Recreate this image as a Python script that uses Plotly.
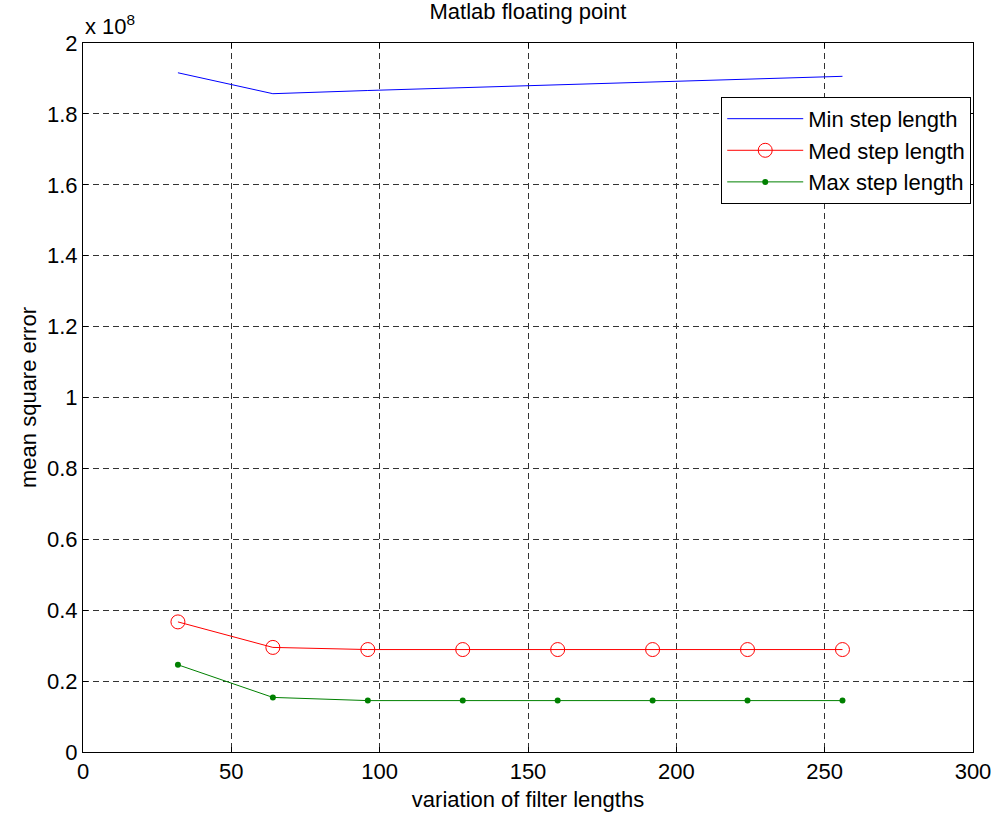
import plotly.graph_objects as go

filter_lengths = [32, 64, 96, 128, 160, 192, 224, 256]
min_step = [1.916e8, 1.857e8, 1.866e8, 1.874e8, 1.881e8, 1.890e8, 1.898e8, 1.906e8]
med_step = [0.367e8, 0.295e8, 0.289e8, 0.289e8, 0.289e8, 0.289e8, 0.289e8, 0.289e8]
max_step = [0.246e8, 0.154e8, 0.145e8, 0.145e8, 0.145e8, 0.145e8, 0.145e8, 0.145e8]

y_tickvals = [0, 0.2e8, 0.4e8, 0.6e8, 0.8e8, 1.0e8, 1.2e8, 1.4e8, 1.6e8, 1.8e8, 2.0e8]
y_ticktext = ["0", "0.2", "0.4", "0.6", "0.8", "1", "1.2", "1.4", "1.6", "1.8", "2"]
x_tickvals = [0, 50, 100, 150, 200, 250, 300]

FONT = "Liberation Sans, Arial, sans-serif"

fig = go.Figure()
fig.add_trace(go.Scatter(x=filter_lengths, y=min_step, mode="lines", name="Min step length",
                         line=dict(color="#0000ff", width=1)))
fig.add_trace(go.Scatter(x=filter_lengths, y=med_step, mode="lines+markers", name="Med step length",
                         line=dict(color="#ff0000", width=1),
                         marker=dict(symbol="circle-open", size=14, color="#ff0000", line=dict(width=1))))
fig.add_trace(go.Scatter(x=filter_lengths, y=max_step, mode="lines+markers", name="Max step length",
                         line=dict(color="#008000", width=1),
                         marker=dict(symbol="circle", size=6, color="#008000")))

axis_common = dict(showline=True, linecolor="black", linewidth=1, mirror="ticks",
                   ticks="inside", ticklen=5, tickcolor="black", automargin=False,
                   showgrid=True, gridcolor="#333333", griddash="6px,4px", gridwidth=1,
                   zeroline=False, tickfont=dict(family=FONT, size=22, color="black"))

fig.update_layout(
    width=997, height=814,
    paper_bgcolor="white", plot_bgcolor="white",
    margin=dict(l=83, r=24, t=43, b=62),
    title=dict(text="Matlab floating point", x=0.5, xref="paper", xanchor="center",
               y=0.986, yanchor="middle",
               font=dict(family=FONT, size=22, color="black")),
    xaxis=dict(range=[0, 300], tickvals=x_tickvals,
               title=dict(text="variation of filter lengths", font=dict(family=FONT, size=22, color="black"), standoff=8),
               **axis_common),
    yaxis=dict(range=[0, 2e8], tickvals=y_tickvals, ticktext=y_ticktext,
               title=dict(text="mean square error", font=dict(family=FONT, size=22, color="black"), standoff=4),
               **axis_common),
    legend=dict(x=0.998, y=0.924, xanchor="right", yanchor="top",
                bordercolor="black", borderwidth=1, bgcolor="white", itemwidth=76,
                font=dict(family=FONT, size=22, color="black"), tracegroupgap=0),
    showlegend=True,
)
fig.add_annotation(text="x 10<sup>8</sup>", xref="paper", yref="paper", x=0, y=1,
                   xanchor="left", yanchor="bottom", showarrow=False, yshift=2,
                   font=dict(family=FONT, size=22, color="black"))

fig.write_html("out.html")
